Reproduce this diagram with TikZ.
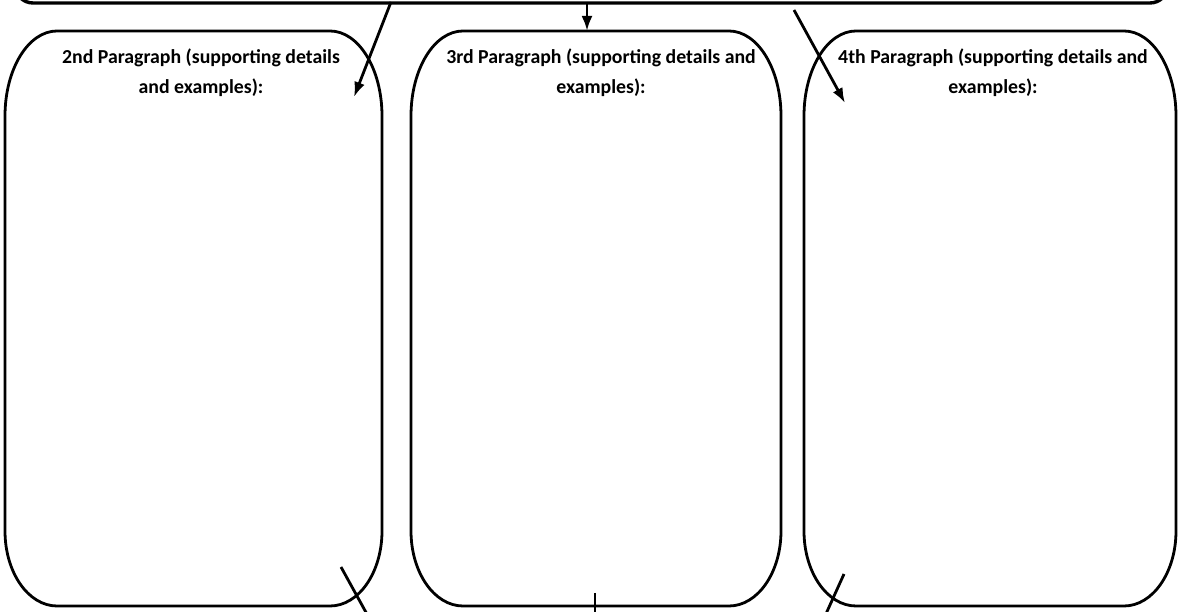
\documentclass[tikz,border=0pt]{standalone}
\usepackage{fontspec}
\setmainfont{Carlito}
\usetikzlibrary{arrows.meta,calc}

\tikzset{
  boxline/.style={line width=2.8pt},
  flowarrow/.style={line width=2.8pt,-{Latex[length=15pt,width=11pt]}},
  flowline/.style={line width=2.8pt},
  headtext/.style={align=center,font=\fontsize{19.8}{30}\selectfont\bfseries,inner sep=0pt}
}

% box with oval corners: #1 left, #2 right, #3 bottom, #4 top
\newcommand{\ovalbox}[4]{%
  \draw[boxline] (#1+52,#4) -- (#2-52,#4)
    arc[start angle=90,end angle=0,x radius=52,y radius=85] -- (#2,#3+75)
    arc[start angle=0,end angle=-90,x radius=52,y radius=75] -- (#1+52,#3)
    arc[start angle=270,end angle=180,x radius=52,y radius=75] -- (#1,#4-85)
    arc[start angle=180,end angle=90,x radius=52,y radius=85] -- cycle;}

\begin{document}
\begin{tikzpicture}[x=1pt,y=1pt]
	 \useasboundingbox (0,0) rectangle (1181,612);
	 \clip (0,0) rectangle (1181,612);

	 %Top box (only its lower edge shows)
	 \draw[boxline,line width=3.4pt,rounded corners=18pt] (15,609) rectangle (1168,720);

	 %Element 1
	 \ovalbox{5}{382}{6}{581}
	 \node[headtext] (p2) at (201,539) {2nd Paragraph (supporting details\\and examples):};

	 %Element 2
	 \ovalbox{411}{781}{6}{581}
	 \node[headtext] (p3) at (601,539) {3rd Paragraph (supporting details and\\examples):};

	 %Element 3
	 \ovalbox{804}{1176}{6}{581}
	 \node[headtext] (p4) at (993,539) {4th Paragraph (supporting details and\\examples):};

	 %arrows from the top box
	 \coordinate (s1) at (391,610);
	 \coordinate (e1) at (354,515);
	 \coordinate (s2) at (587,610);
	 \coordinate (e2) at (587,581);
	 \coordinate (s3) at (794,602);
	 \coordinate (e3) at (845,509);
	 \draw[flowarrow] (s1) -- (e1);
	 \draw[flowarrow] (s2) -- (e2);
	 \draw[flowarrow] (s3) -- (e3);

	 %lines going down
	 \coordinate (b1) at (341,45);
	 \coordinate (d1) at (368,-4);
	 \coordinate (b2) at (595,19);
	 \coordinate (d2) at (595,-4);
	 \coordinate (b3) at (844,38);
	 \coordinate (d3) at (825,-4);
	 \draw[flowline] (b1) -- (d1);
	 \draw[flowline] (b2) -- (d2);
	 \draw[flowline] (b3) -- (d3);
\end{tikzpicture}
\end{document}
